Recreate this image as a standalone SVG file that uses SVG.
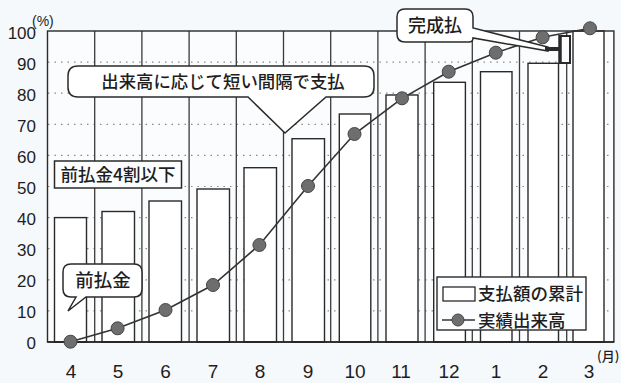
<svg xmlns="http://www.w3.org/2000/svg" width="621" height="383" viewBox="0 0 621 383">
<style>
.t{font-family:"Liberation Sans","Noto Sans CJK JP",sans-serif;fill:#1e1e1e}
.ax{font-size:17px;text-anchor:end}
.mo{font-size:19px;text-anchor:middle}
.jp{font-family:"Noto Sans CJK JP","Liberation Sans",sans-serif;fill:#1e1e1e;font-weight:500}
.vg{stroke:#3a3a3a;stroke-width:1.3}
.hg{stroke:#8a8a8a;stroke-width:1.2;stroke-dasharray:1.5 5}
.bar{fill:#ffffff;stroke:#2a2a2a;stroke-width:1.4}
.pt{fill:#6e6e6e;stroke:#454545;stroke-width:1}
.co{fill:#ffffff;stroke:#2a2a2a;stroke-width:1.5}
</style>
<rect x="0" y="0" width="621" height="383" fill="#f6f9fb"/>
<rect x="47.5" y="31" width="566.4" height="311" fill="#fafcfd"/>
<g id="grid">
<line class="hg" x1="48" y1="62.1" x2="613" y2="62.1"/>
<line class="hg" x1="48" y1="93.2" x2="613" y2="93.2"/>
<line class="hg" x1="48" y1="124.3" x2="613" y2="124.3"/>
<line class="hg" x1="48" y1="155.4" x2="613" y2="155.4"/>
<line class="hg" x1="48" y1="186.5" x2="613" y2="186.5"/>
<line class="hg" x1="48" y1="217.6" x2="613" y2="217.6"/>
<line class="hg" x1="48" y1="248.7" x2="613" y2="248.7"/>
<line class="hg" x1="48" y1="279.8" x2="613" y2="279.8"/>
<line class="hg" x1="48" y1="310.9" x2="613" y2="310.9"/>
<line class="vg" x1="94.7" y1="31" x2="94.7" y2="342"/>
<line class="vg" x1="141.9" y1="31" x2="141.9" y2="342"/>
<line class="vg" x1="189.1" y1="31" x2="189.1" y2="342"/>
<line class="vg" x1="236.3" y1="31" x2="236.3" y2="342"/>
<line class="vg" x1="283.5" y1="31" x2="283.5" y2="342"/>
<line class="vg" x1="330.7" y1="31" x2="330.7" y2="342"/>
<line class="vg" x1="377.9" y1="31" x2="377.9" y2="342"/>
<line class="vg" x1="425.1" y1="31" x2="425.1" y2="342"/>
<line class="vg" x1="472.3" y1="31" x2="472.3" y2="342"/>
<line class="vg" x1="519.5" y1="31" x2="519.5" y2="342"/>
<line class="vg" x1="566.7" y1="31" x2="566.7" y2="342"/>
</g>
<g id="bars">
<rect class="bar" x="54.5" y="217.6" width="32" height="124.4"/>
<rect class="bar" x="102" y="211.5" width="32.5" height="130.5"/>
<rect class="bar" x="149" y="201" width="32.5" height="141"/>
<rect class="bar" x="197" y="189" width="32.5" height="153"/>
<rect class="bar" x="244" y="167.7" width="32.5" height="174.3"/>
<rect class="bar" x="292" y="138.7" width="32.5" height="203.3"/>
<rect class="bar" x="339.3" y="114" width="31.5" height="228"/>
<rect class="bar" x="386" y="95" width="32" height="247"/>
<rect class="bar" x="433.7" y="82.3" width="31.7" height="259.7"/>
<rect class="bar" x="480.5" y="71.7" width="31.5" height="270.3"/>
<rect class="bar" x="528" y="63.3" width="30.5" height="278.7"/>
<rect class="bar" x="573" y="31" width="31" height="311"/>
</g>
<g id="axes">
<rect x="47.5" y="31" width="566.4" height="311" fill="none" stroke="#2a2a2a" stroke-width="1.4"/>
<line x1="47.5" y1="342" x2="614" y2="342" stroke="#222" stroke-width="1.6"/>
<text class="t ax" x="36" y="39">100</text>
<text class="t ax" x="36" y="70">90</text>
<text class="t ax" x="36" y="101">80</text>
<text class="t ax" x="36" y="132">70</text>
<text class="t ax" x="36" y="163">60</text>
<text class="t ax" x="36" y="194">50</text>
<text class="t ax" x="36" y="225">40</text>
<text class="t ax" x="36" y="256">30</text>
<text class="t ax" x="36" y="287">20</text>
<text class="t ax" x="36" y="318">10</text>
<text class="t ax" x="36" y="349">0</text>
<text class="t" x="32" y="26" font-size="14">(%)</text>
<text class="t mo" x="71" y="378">4</text>
<text class="t mo" x="118" y="378">5</text>
<text class="t mo" x="165.5" y="378">6</text>
<text class="t mo" x="213" y="378">7</text>
<text class="t mo" x="260" y="378">8</text>
<text class="t mo" x="308" y="378">9</text>
<text class="t mo" x="355" y="378">10</text>
<text class="t mo" x="401" y="378">11</text>
<text class="t mo" x="449" y="378">12</text>
<text class="t mo" x="496" y="378">1</text>
<text class="t mo" x="543" y="378">2</text>
<text class="t mo" x="589" y="378">3</text>
<text class="jp" x="597" y="361" font-size="13">(月)</text>
</g>
<g id="completion-block">
<rect x="560" y="36" width="10" height="27" fill="#fafcfd" stroke="#2a2a2a" stroke-width="2"/>
<line x1="560" y1="35" x2="560" y2="64" stroke="#2a2a2a" stroke-width="3.5"/>
</g>
<g id="series">
<polyline points="70.5,341.7 117.6,328.3 165.5,310 213,285 259.4,245 308,186 354.5,134 402,98.3 448.7,71.7 495.8,52.7 542.6,37.3 590,28.3" fill="none" stroke="#333" stroke-width="1.6"/>
<circle class="pt" cx="70.5" cy="341.7" r="6.5"/>
<circle class="pt" cx="117.6" cy="328.3" r="6.5"/>
<circle class="pt" cx="165.5" cy="310" r="6.5"/>
<circle class="pt" cx="213" cy="285" r="6.5"/>
<circle class="pt" cx="259.4" cy="245" r="6.5"/>
<circle class="pt" cx="308" cy="186" r="6.5"/>
<circle class="pt" cx="354.5" cy="134" r="6.5"/>
<circle class="pt" cx="402" cy="98.3" r="6.5"/>
<circle class="pt" cx="448.7" cy="71.7" r="6.5"/>
<circle class="pt" cx="495.8" cy="52.7" r="6.5"/>
<circle class="pt" cx="542.6" cy="37.3" r="6.5"/>
<circle class="pt" cx="590" cy="28.3" r="6.5"/>
</g>
<g id="callout-short-interval">
<path class="co" d="M78,66 H364 Q374,66 374,76 V87 Q374,97 364,97 H326 L285,133 L248,97 H78 Q68,97 68,87 V76 Q68,66 78,66 Z"/>
<text class="jp" x="223" y="88" font-size="17.4" text-anchor="middle">出来高に応じて短い間隔で支払</text>
</g>
<g id="callout-completion">
<path class="co" d="M405,9 H465 Q473,9 473,17 V28 L548,47 L548,51 L473,38 Q473,42 469,42 H405 Q397,42 397,34 V17 Q397,9 405,9 Z"/>
<rect x="545" y="47" width="15" height="4" fill="#2a2a2a"/>
<text class="jp" x="435" y="32" font-size="18" text-anchor="middle">完成払</text>
</g>
<g id="label-advance-limit">
<rect x="54.5" y="161" width="127" height="27" fill="#fbfdfe" stroke="#2a2a2a" stroke-width="1.5"/>
<text class="jp" x="118" y="181" font-size="17.5" text-anchor="middle">前払金4割以下</text>
</g>
<g id="callout-advance">
<path class="co" d="M71,264 H134 Q142,264 142,272 V289 Q142,297 134,297 H86 L68,311 L76,297 H71 Q63,297 63,289 V272 Q63,264 71,264 Z"/>
<text class="jp" x="103" y="287" font-size="18.5" text-anchor="middle">前払金</text>
</g>
<g id="legend">
<rect x="437" y="277" width="149" height="53" fill="#fbfdfe" stroke="#2a2a2a" stroke-width="1.4"/>
<rect x="443" y="287" width="32" height="14" fill="#ffffff" stroke="#2a2a2a" stroke-width="1.3"/>
<text class="jp" x="478" y="300" font-size="17.5">支払額の累計</text>
<line x1="442" y1="320" x2="475" y2="320" stroke="#333" stroke-width="1.6"/>
<circle class="pt" cx="458" cy="320" r="6"/>
<text class="jp" x="478" y="327" font-size="17.5">実績出来高</text>
</g>
</svg>
